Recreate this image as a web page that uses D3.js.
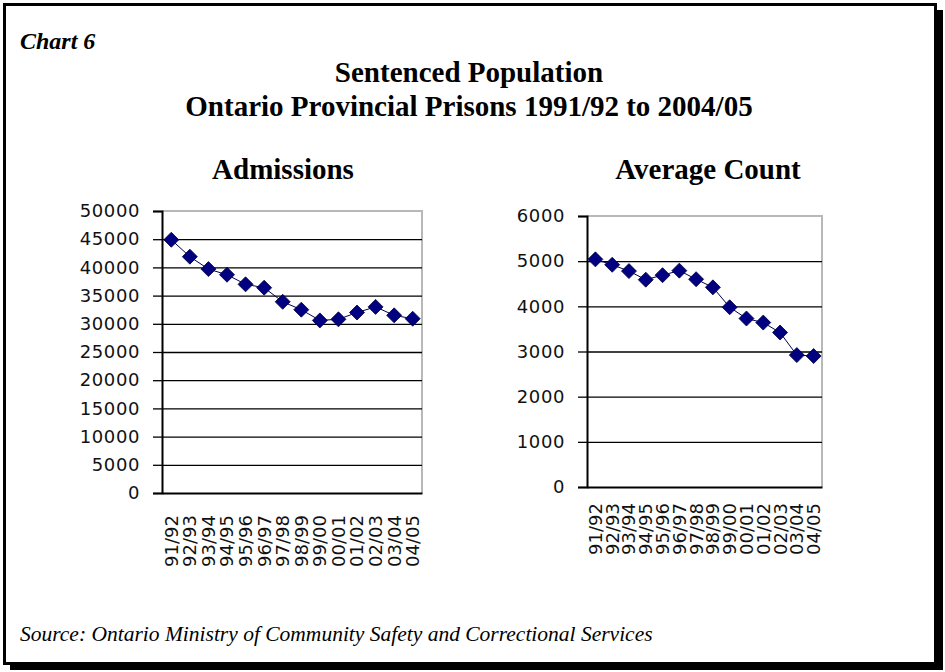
<!DOCTYPE html>
<html>
<head>
<meta charset="utf-8">
<script src="https://cdn.jsdelivr.net/npm/d3@7"></script>
<style>
  body { margin: 0; background: #fff; }
  svg { display: block; }
</style>
</head>
<body>
<div id="chart"></div>
<script>
// years shown on the x axis of both panels
const years = ["91/92", "92/93", "93/94", "94/95", "95/96", "96/97", "97/98",
  "98/99", "99/00", "00/01", "01/02", "02/03", "03/04", "04/05"];

// sentenced admissions per year
const admissions = [44900, 41900, 39700, 38700, 37000, 36400, 33900,
  32500, 30600, 30800, 32000, 33000, 31500, 30900];

// sentenced average count per year
const averageCount = [5040, 4920, 4780, 4590, 4690, 4790, 4600,
  4420, 3980, 3730, 3640, 3420, 2920, 2900];

const admissionTicks = [0, 5000, 10000, 15000, 20000, 25000, 30000, 35000, 40000, 45000, 50000];
const countTicks = [0, 1000, 2000, 3000, 4000, 5000, 6000];

const width = 945,
  height = 672;

const svg = d3
  .select("#chart")
  .append("svg")
  .attr("width", width)
  .attr("height", height);

//frame with its drop shadow
svg.append("rect")
  .attr("x", 10).attr("y", 10)
  .attr("width", 933).attr("height", 660)
  .attr("fill", "#000");
svg.append("rect")
  .attr("x", 4.5).attr("y", 4.5)
  .attr("width", 931).attr("height", 659)
  .attr("fill", "#fff")
  .attr("stroke", "#000")
  .attr("stroke-width", 3);

const serif = "'Liberation Serif', 'Times New Roman', serif";

svg.append("text")
  .attr("x", 20).attr("y", 49)
  .style("font-family", serif)
  .style("font-size", "24px")
  .style("font-weight", "bold")
  .style("font-style", "italic")
  .text("Chart 6");

svg.append("text")
  .attr("x", 469).attr("y", 82)
  .attr("text-anchor", "middle")
  .style("font-family", serif)
  .style("font-size", "29px")
  .style("font-weight", "bold")
  .text("Sentenced Population");

svg.append("text")
  .attr("x", 469).attr("y", 116)
  .attr("text-anchor", "middle")
  .style("font-family", serif)
  .style("font-size", "29px")
  .style("font-weight", "bold")
  .text("Ontario Provincial Prisons 1991/92 to 2004/05");

svg.append("text")
  .attr("x", 20).attr("y", 641)
  .style("font-family", serif)
  .style("font-size", "21.5px")
  .style("font-style", "italic")
  .text("Source: Ontario Ministry of Community Safety and Correctional Services");

//draws one line panel
function drawPanel(opts) {
  const { left, right, top, bottom, values, ticks, maxVal, title, titleX, labelGap } = opts;

  const x = d3.scaleBand().domain(years).range([left, right]);
  const y = d3.scaleLinear().domain([0, maxVal]).range([bottom, top]);

  const g = svg.append("g");

  //panel title
  g.append("text")
    .attr("x", titleX).attr("y", 179)
    .attr("text-anchor", "middle")
    .style("font-family", serif)
    .style("font-size", "29px")
    .style("font-weight", "bold")
    .text(title);

  //grey plot area border (top and right)
  g.append("path")
    .attr("d", `M${left},${top}H${right}V${bottom}`)
    .attr("fill", "none")
    .attr("stroke", "#b8b8b8")
    .attr("stroke-width", 2);

  //gridlines
  g.append("g")
    .attr("transform", `translate(${left},0)`)
    .call(d3.axisLeft(y).tickValues(ticks.filter((t) => t > 0 && t < maxVal)).tickSize(-(right - left)).tickFormat(""))
    .call((a) => a.select(".domain").remove())
    .selectAll("line")
    .attr("stroke", "#000")
    .attr("stroke-width", 1.3);

  //y axis with outside ticks
  const yAxis = g.append("g")
    .attr("transform", `translate(${left},0)`)
    .call(d3.axisLeft(y).tickValues(ticks).tickSize(9).tickPadding(13).tickFormat((d) => d));
  yAxis.select(".domain").attr("stroke-width", 2);
  yAxis.selectAll("line").attr("stroke-width", 1.3);
  yAxis.selectAll("text")
    .style("font-family", "'DejaVu Sans', sans-serif")
    .style("font-size", "18px")
    .style("letter-spacing", "0.6px")
    .attr("fill", "#111");

  //x axis
  const xAxis = g.append("g")
    .attr("transform", `translate(0,${bottom})`)
    .call(d3.axisBottom(x).tickSize(0).tickSizeOuter(0));
  xAxis.select(".domain").attr("stroke-width", 2);
  xAxis.selectAll("text")
    .attr("transform", "rotate(-90)")
    .attr("x", -labelGap)
    .attr("y", 0)
    .attr("dy", "0.36em")
    .attr("text-anchor", "end")
    .style("font-family", "'DejaVu Sans', sans-serif")
    .style("font-size", "18px")
    .attr("fill", "#111");

  const cx = (d, i) => x(years[i]) + x.bandwidth() / 2;

  //data line
  g.append("path")
    .datum(values)
    .attr("fill", "none")
    .attr("stroke", "#000050")
    .attr("stroke-width", 1)
    .attr("d", d3.line().x(cx).y((d) => y(d)));

  //diamond markers
  g.selectAll(".marker")
    .data(values)
    .enter()
    .append("path")
    .attr("class", "marker")
    .attr("transform", (d, i) => `translate(${cx(d, i)},${y(d)})`)
    .attr("d", "M0,-7.5L7.5,0L0,7.5L-7.5,0Z")
    .attr("fill", "#000080")
    .attr("stroke", "#000040")
    .attr("stroke-width", 0.8);
}

drawPanel({
  left: 162, right: 422, top: 211, bottom: 493,
  values: admissions, ticks: admissionTicks, maxVal: 50000,
  title: "Admissions", titleX: 283, labelGap: 22
});

drawPanel({
  left: 587, right: 822, top: 216, bottom: 487,
  values: averageCount, ticks: countTicks, maxVal: 6000,
  title: "Average Count", titleX: 708, labelGap: 16
});
</script>
</body>
</html>
